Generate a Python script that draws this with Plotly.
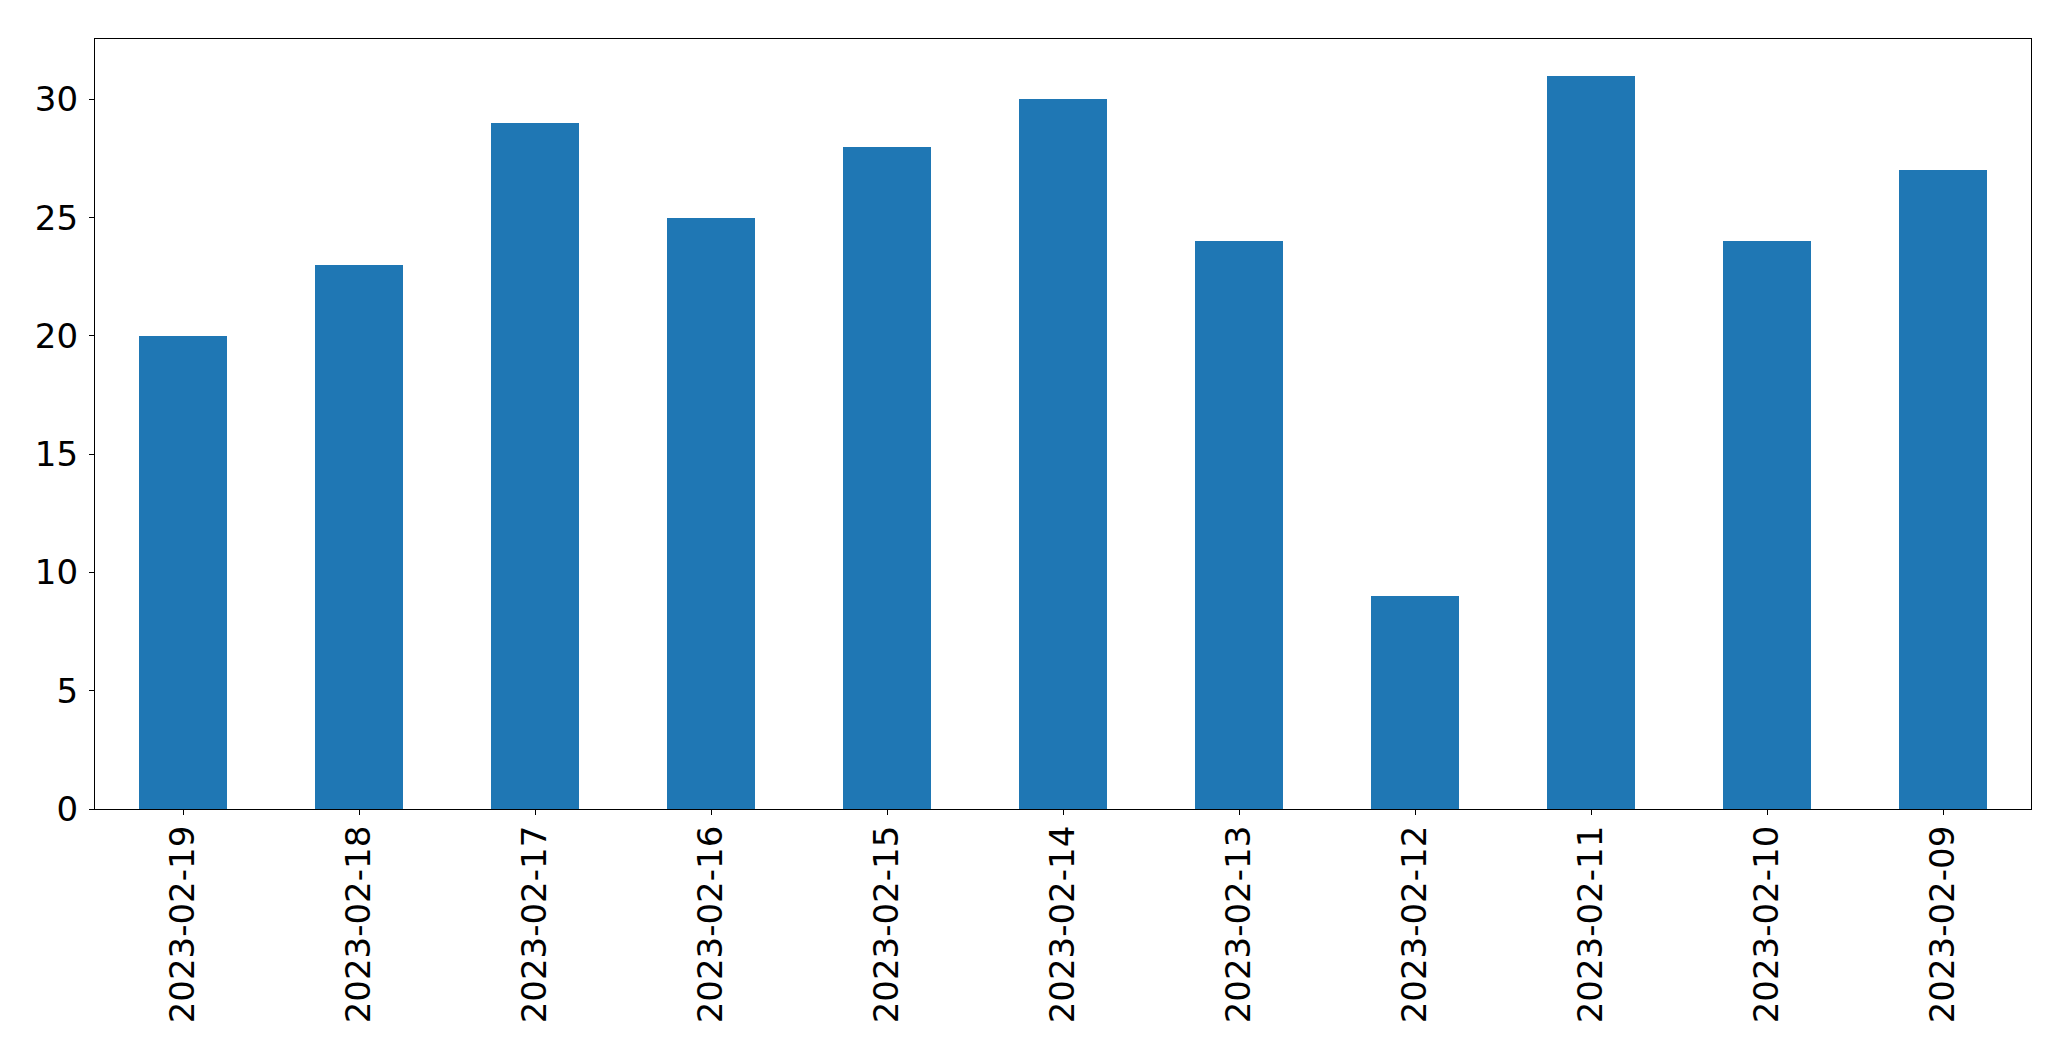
import plotly.graph_objects as go

dates = ["2023-02-19", "2023-02-18", "2023-02-17", "2023-02-16", "2023-02-15",
         "2023-02-14", "2023-02-13", "2023-02-12", "2023-02-11", "2023-02-10", "2023-02-09"]
counts = [20, 23, 29, 25, 28, 30, 24, 9, 31, 24, 27]
y_ticks = [0, 5, 10, 15, 20, 25, 30]

fig = go.Figure(go.Bar(x=dates, y=counts, marker_color="#1f77b4", marker_line_width=0, width=0.5))

fig.update_layout(
    width=2063, height=1053,
    margin=dict(l=87, r=40, t=31, b=252, autoexpand=False),
    plot_bgcolor="white", paper_bgcolor="white",
    font=dict(family="DejaVu Sans", size=34, color="black"),
    showlegend=False,
    bargap=0,
)
fig.update_xaxes(
    type="category", range=[-0.5, len(dates) - 0.5],
    tickangle=-90, ticks="outside", ticklen=5, tickwidth=1.3, tickcolor="black",
    showline=True, linecolor="black", linewidth=1.3, mirror=True,
    showgrid=False, zeroline=False, ticklabelstandoff=-3,
)
fig.update_yaxes(
    range=[0, 32.55], tickvals=y_ticks, ticks="outside", ticklen=5, tickwidth=1.3, tickcolor="black",
    showline=True, linecolor="black", linewidth=1.3, mirror=True,
    showgrid=False, zeroline=False, ticklabelstandoff=4,
)
fig.write_html("out.html")
